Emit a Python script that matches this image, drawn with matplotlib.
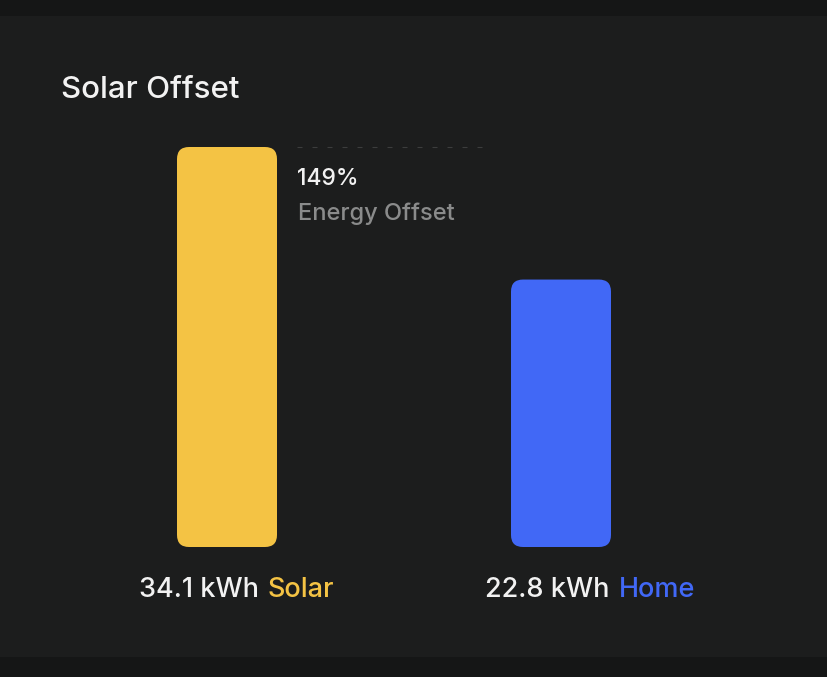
import matplotlib
matplotlib.use("Agg")
import matplotlib.pyplot as plt
from matplotlib.patches import FancyBboxPatch, Rectangle

# data
categories = ["Solar", "Home"]
energy_kwh = [34.1, 22.8]
offset_pct = 149
bar_colors = ["#F4C344", "#4168F6"]

W, H = 828, 677
BG_OUTER = "#151616"
BG_CARD = "#1C1D1D"
TXT = "#F2F2F2"
TXT_DIM = "#8A8B8B"

plt.rcParams['font.family'] = ['Inter', 'DejaVu Sans']


def px(x, y):
    # pixel coords from the top-left corner -> figure fraction
    return x / W, 1 - y / H


fig = plt.figure(figsize=(W / 100, H / 100), dpi=100, facecolor=BG_OUTER)

# card background
fig.patches.append(Rectangle(px(0, 657), 1, (657 - 16) / H, transform=fig.transFigure,
                             facecolor=BG_CARD, edgecolor="none", zorder=-10))

# axes: zero line at y=547px, top of tallest bar at y=147px
bottom = 1 - 547 / H
top = 1 - 147 / H
ax = fig.add_axes([0, bottom, 1, top - bottom])
ax.set_zorder(1)
ax.set_facecolor("none")
ax.set_xlim(-227 / 334, (W - 227) / 334)
ax.set_ylim(0, max(energy_kwh))
ax.axis("off")

x = list(range(len(categories)))
bar_w = 100 / 334
bars = ax.bar(x, energy_kwh, width=bar_w, color=bar_colors)

# swap plain bars for rounded ones
px_per_y = 400 / max(energy_kwh)
px_per_x = 334
for b, c in zip(bars, bar_colors):
    bx, by, bw, bh = b.get_x(), b.get_y(), b.get_width(), b.get_height()
    b.remove()
    r = 12 / px_per_x
    ax.add_patch(FancyBboxPatch((bx, by), bw, bh,
                                boxstyle=f"round,pad=0,rounding_size={r}",
                                mutation_aspect=px_per_x / px_per_y,
                                facecolor=c, edgecolor="none", clip_on=False))

# dashed guide at the top of the solar bar
ax.plot([bar_w / 2 + 20 / 334, bar_w / 2 + 205 / 334], [energy_kwh[0]] * 2,
        color="#3C3D3D", lw=0.8, dashes=(4.5, 9), solid_capstyle="butt",
        dash_capstyle="butt", clip_on=False)

# title
fig.text(*px(61, 98), "Solar Offset", color=TXT, fontsize=22.5, fontweight="medium",
         ha="left", va="baseline")

# offset annotation
fig.text(*px(297, 185), f"{offset_pct}%", color=TXT, fontsize=16.5, fontweight="medium",
         ha="left", va="baseline")
fig.text(*px(298, 220), "Energy Offset", color=TXT_DIM, fontsize=17, fontweight="medium",
         ha="left", va="baseline")

# bottom labels: value in white, category in its bar colour
label_left = [139, 485]
for i, (cat, val, c) in enumerate(zip(categories, energy_kwh, bar_colors)):
    t = fig.text(*px(label_left[i], 597), f"{val} kWh", color=TXT, fontsize=19.5,
                 fontweight="medium", ha="left", va="baseline")
    fig.canvas.draw()
    ext = t.get_window_extent()
    fig.text((ext.x1 + 9) / W, 1 - 597 / H, cat, color=c, fontsize=19.5,
             fontweight="medium", ha="left", va="baseline")

fig.savefig("out.png", dpi=100, facecolor=BG_OUTER)
